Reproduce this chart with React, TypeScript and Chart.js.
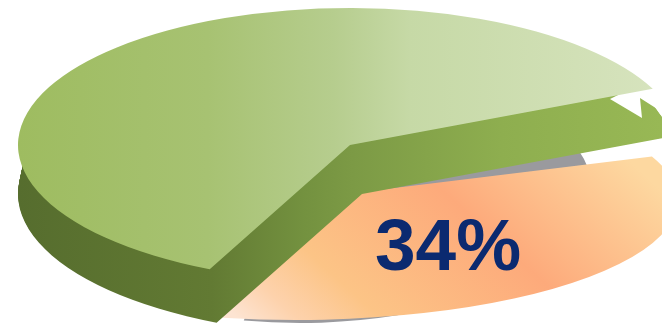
import React, { useEffect, useRef } from "react";
import { Chart, registerables } from "chart.js";

Chart.register(...registerables);

// Share of each slice, in percent.
const sliceLabels = ["Other", "Highlighted"];
const sliceValues = [66, 34];

const WIDTH = 662;
const HEIGHT = 327;

// Ellipses the flat arcs are projected onto.
const topFace = { cx: 350, cy: 145, rx: 332, ry: 137 };
const wallStart = { cx: 350, cy: 147, rx: 322, ry: 135 };
const bottomFace = { cx: 362, cy: 194, rx: 344, ry: 142 };
const explodedFace = { cx: 296, cy: 200, rx: 382, ry: 120 };
const shadowFace = { cx: 300, cy: 190, rx: 292, ry: 133 };
const WALL_STEPS = 60;

type Face = { cx: number; cy: number; rx: number; ry: number };

function stops(g: CanvasGradient, list: [number, string][]) {
  list.forEach(([o, c]) => g.addColorStop(o, c));
  return g;
}

// Draws one arc element on a given ellipse, whatever its ring radii are.
function drawOnFace(ctx: CanvasRenderingContext2D, arc: any, face: Face) {
  const inner = arc.innerRadius;
  arc.innerRadius = 0;
  ctx.save();
  ctx.translate(face.cx, face.cy);
  ctx.scale(face.rx / arc.outerRadius, face.ry / arc.outerRadius);
  ctx.translate(-arc.x, -arc.y);
  arc.draw(ctx);
  ctx.restore();
  arc.innerRadius = inner;
}

const pie3d = {
  id: "pie3d",
  beforeDatasetsDraw(chart: any) {
    const ctx: CanvasRenderingContext2D = chart.ctx;
    const layer = document.createElement("canvas");
    layer.width = WIDTH;
    layer.height = HEIGHT;
    const off = layer.getContext("2d") as CanvasRenderingContext2D;

    // Paints arcs as a mask on a scratch layer, then floods them with a gradient in page space.
    const paint = (draw: () => void, fill: CanvasGradient | string) => {
      off.globalCompositeOperation = "source-over";
      off.clearRect(0, 0, WIDTH, HEIGHT);
      draw();
      off.globalCompositeOperation = "source-in";
      off.fillStyle = fill;
      off.fillRect(0, 0, WIDTH, HEIGHT);
      ctx.drawImage(layer, 0, 0);
    };

    const green = chart.getDatasetMeta(0).data[0];
    const orange = chart.getDatasetMeta(1).data[1];

    paint(() => drawOnFace(off, orange, shadowFace), "#9a9a9e");

    const peach = stops(off.createLinearGradient(240, 320, 508, 24), [
      [0, "#fde4d2"],
      [0.1, "#fdd2ac"],
      [0.24, "#fcc486"],
      [0.58, "#fdaa7b"],
      [0.95, "#fdd8a0"],
    ]);
    paint(() => drawOnFace(off, orange, explodedFace), peach);

    const wall = stops(off.createLinearGradient(18, 0, 662, 0), [
      [0, "#566d2e"],
      [0.3, "#627a33"],
      [0.44, "#73913f"],
      [0.52, "#7c9a45"],
      [0.75, "#8eae4f"],
      [1, "#98b855"],
    ]);
    paint(() => {
      for (let i = WALL_STEPS; i >= 0; i--) {
        const k = i / WALL_STEPS;
        drawOnFace(off, green, {
          cx: wallStart.cx + (bottomFace.cx - wallStart.cx) * k,
          cy: wallStart.cy + (bottomFace.cy - wallStart.cy) * k,
          rx: wallStart.rx + (bottomFace.rx - wallStart.rx) * k,
          ry: wallStart.ry + (bottomFace.ry - wallStart.ry) * k,
        });
      }
    }, wall);

    // Torn corner of the side wall at the right end of the slice.
    ctx.save();
    ctx.fillStyle = "#ffffff";
    ctx.beginPath();
    ctx.moveTo(610, 99);
    ctx.lineTo(642, 118);
    ctx.lineTo(640, 98);
    ctx.lineTo(662, 112);
    ctx.lineTo(662, 84);
    ctx.lineTo(640, 84);
    ctx.closePath();
    ctx.fill();
    ctx.restore();

    const leaf = stops(off.createLinearGradient(18, 0, 650, 0), [
      [0, "#9ebc60"],
      [0.3, "#a7c272"],
      [0.5, "#b6cd8e"],
      [0.62, "#c6d9a6"],
      [1, "#d6e3bd"],
    ]);
    paint(() => drawOnFace(off, green, topFace), leaf);
    return false;
  },
  afterDraw(chart: any) {
    const ctx: CanvasRenderingContext2D = chart.ctx;
    ctx.save();
    ctx.fillStyle = "#0b2a70";
    ctx.font = 'bold 73px "Liberation Sans", Arial, sans-serif';
    ctx.textAlign = "left";
    ctx.textBaseline = "alphabetic";
    ctx.fillText(`${sliceValues[1]}%`, 375, 270);
    ctx.restore();
  },
};

export default function App() {
  const ref = useRef<HTMLCanvasElement>(null);

  useEffect(() => {
    const chart = new Chart(ref.current as HTMLCanvasElement, {
      type: "pie",
      data: {
        labels: sliceLabels,
        datasets: [
          // Perspective narrows the large slice, hence its shorter full sweep.
          { data: sliceValues, rotation: 205, circumference: 334.5, backgroundColor: ["#9ebc60", "#fdaa7b"], borderWidth: 0 },
          { data: sliceValues, rotation: -168.9, circumference: 360, backgroundColor: ["#9ebc60", "#fdaa7b"], borderWidth: 0 },
        ],
      },
      options: {
        responsive: false,
        animation: false,
        devicePixelRatio: 1,
        plugins: { legend: { display: false }, tooltip: { enabled: false } },
      },
      plugins: [pie3d],
    } as any);
    return () => chart.destroy();
  }, []);

  return (
    <div style={{ position: "fixed", left: 0, top: 0, width: WIDTH, height: HEIGHT, background: "#ffffff" }}>
      <canvas ref={ref} width={WIDTH} height={HEIGHT} style={{ display: "block" }} />
    </div>
  );
}
